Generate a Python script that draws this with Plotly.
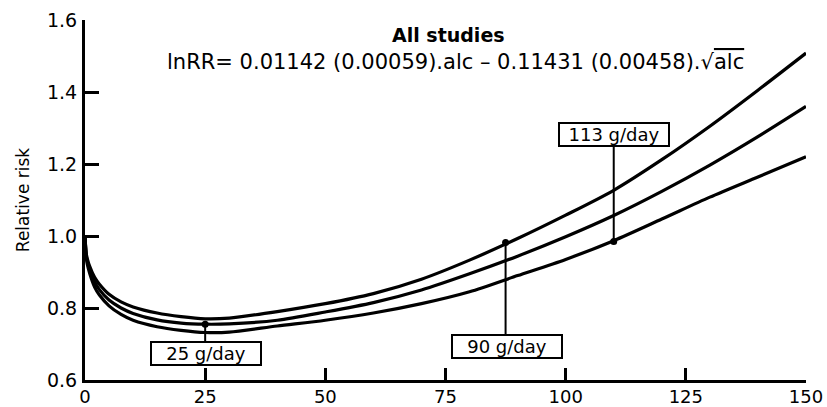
import plotly.graph_objects as go

# ---- data ----
alc = [0, 0.25, 0.5, 1, 2, 3, 5, 7.5, 10, 15, 20, 25, 30, 40, 50, 60, 70, 80, 90, 100, 110, 120, 130, 140, 150]
rr_mid = [1.0, 0.947, 0.928, 0.905, 0.872, 0.851, 0.822, 0.800, 0.785, 0.767, 0.758, 0.755, 0.756, 0.766,
          0.789, 0.815, 0.850, 0.895, 0.944, 0.998, 1.057, 1.124, 1.197, 1.276, 1.360]
rr_upper = [1.0, 0.952, 0.936, 0.915, 0.885, 0.866, 0.838, 0.817, 0.803, 0.786, 0.776, 0.770, 0.772, 0.790,
            0.812, 0.840, 0.880, 0.933, 0.993, 1.058, 1.127, 1.212, 1.305, 1.405, 1.508]
rr_lower = [1.0, 0.942, 0.920, 0.895, 0.858, 0.836, 0.806, 0.782, 0.766, 0.748, 0.738, 0.732, 0.733, 0.750,
            0.766, 0.786, 0.812, 0.845, 0.890, 0.935, 0.987, 1.047, 1.108, 1.164, 1.220]

marker_x = [25, 87.5, 110]
marker_y = [0.755, 0.982, 0.985]
label_text = ["25 g/day", "90 g/day", "113 g/day"]
label_x = [25.2, 87.7, 110.1]
label_y = [0.674, 0.692, 1.283]
label_edge_y = [0.706, 0.727, 1.250]

x_ticks = [0, 25, 50, 75, 100, 125, 150]
y_ticks = [0.6, 0.8, 1.0, 1.2, 1.4, 1.6]

FONT = "DejaVu Sans"

fig = go.Figure()
for ys in (rr_upper, rr_mid, rr_lower):
    fig.add_trace(go.Scatter(x=alc, y=ys, mode="lines",
                             line=dict(color="black", width=3.2, shape="spline", smoothing=0.8),
                             hoverinfo="skip", showlegend=False))

for mx, my, ey in zip(marker_x, marker_y, label_edge_y):
    fig.add_trace(go.Scatter(x=[mx, mx], y=[my, ey], mode="lines",
                             line=dict(color="black", width=2),
                             hoverinfo="skip", showlegend=False))

fig.add_trace(go.Scatter(x=marker_x, y=marker_y, mode="markers",
                         marker=dict(color="black", size=7),
                         hoverinfo="skip", showlegend=False))

for t, lx, ly in zip(label_text, label_x, label_y):
    fig.add_annotation(x=lx, y=ly, xref="x", yref="y", text=t, showarrow=False,
                       font=dict(family=FONT, size=18, color="black"),
                       bgcolor="white", bordercolor="black", borderwidth=2,
                       borderpad=0, width=108, height=21, valign="middle")

fig.add_annotation(x=448, y=35, xref="paper", yref="paper", text="<b>All studies</b>",
                   xanchor="center", yanchor="middle",
                   showarrow=False, font=dict(family=FONT, size=19, color="black"))
fig.add_annotation(
    x=455, y=62, xref="paper", yref="paper", xanchor="center", yanchor="middle",
    text='lnRR= 0.01142 (0.00059).alc \u2013 0.11431 (0.00458).\u221a<span style="text-decoration:overline">alc</span>',
    showarrow=False, font=dict(family=FONT, size=21, color="black"))

fig.update_layout(
    width=827, height=407,
    margin=dict(l=85, r=21, t=20, b=27),
    paper_bgcolor="white", plot_bgcolor="white",
    font=dict(family=FONT, color="black"),
    xaxis=dict(range=[0, 150], tickvals=x_ticks, ticks="inside", ticklen=12, tickwidth=2.5,
               tickcolor="black", showline=True, linewidth=3, linecolor="black",
               showgrid=False, zeroline=False, automargin=False, ticklabelstandoff=-2,
               tickfont=dict(family=FONT, size=18)),
    yaxis=dict(range=[0.6, 1.6], tickvals=y_ticks, tickformat=".1f", ticks="inside",
               ticklen=14, tickwidth=3, tickcolor="black", showline=True, linewidth=3,
               linecolor="black", showgrid=False, zeroline=False, automargin=False,
               tickfont=dict(family=FONT, size=19), ticklabelstandoff=1,
               title=dict(text="Relative risk", font=dict(family=FONT, size=17), standoff=14)),
)

# convert paper annotation pixel positions to paper fractions
W, H = 827, 407
l, r, t, b = 85, 21, 20, 27
pw, ph = W - l - r, H - t - b
for a in fig.layout.annotations:
    if a.xref == "paper":
        a.x = (a.x - l) / pw
        a.y = 1 - (a.y - t) / ph

fig.write_html("out.html", config={"displayModeBar": False},
               post_script="document.body.style.margin='0';document.body.style.overflow='hidden';")
